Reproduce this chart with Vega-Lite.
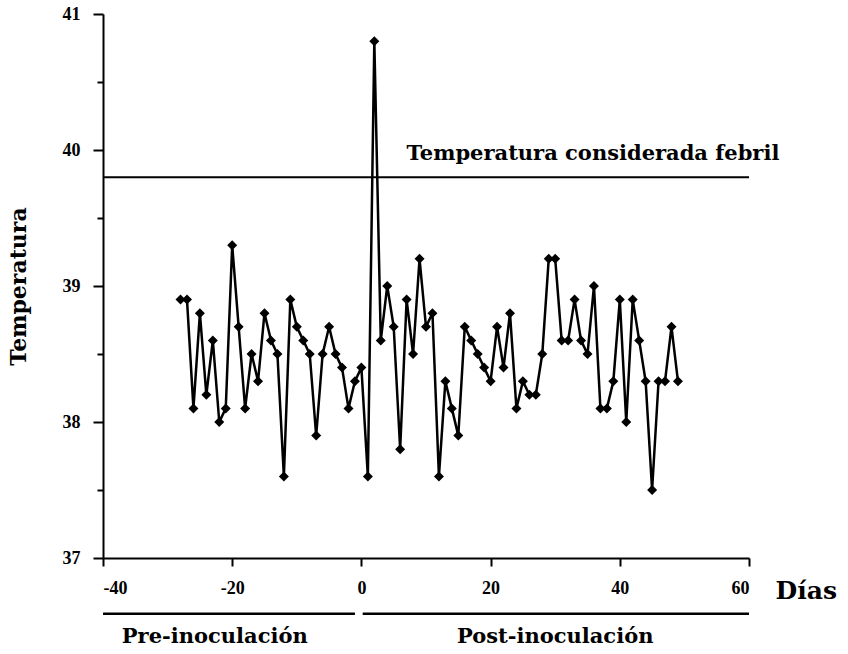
{
  "$schema": "https://vega.github.io/schema/vega-lite/v6.json",
  "width": 646,
  "height": 544,
  "autosize": "none",
  "padding": {"left": 103, "top": 14, "right": 99, "bottom": 96},
  "background": "white",
  "config": {
    "view": {"stroke": null},
    "font": "Liberation Serif"
  },
  "datasets": {
    "temp": [
      {"dia": -28, "temp": 38.9}, {"dia": -27, "temp": 38.9}, {"dia": -26, "temp": 38.1},
      {"dia": -25, "temp": 38.8}, {"dia": -24, "temp": 38.2}, {"dia": -23, "temp": 38.6},
      {"dia": -22, "temp": 38.0}, {"dia": -21, "temp": 38.1}, {"dia": -20, "temp": 39.3},
      {"dia": -19, "temp": 38.7}, {"dia": -18, "temp": 38.1}, {"dia": -17, "temp": 38.5},
      {"dia": -16, "temp": 38.3}, {"dia": -15, "temp": 38.8}, {"dia": -14, "temp": 38.6},
      {"dia": -13, "temp": 38.5}, {"dia": -12, "temp": 37.6}, {"dia": -11, "temp": 38.9},
      {"dia": -10, "temp": 38.7}, {"dia": -9, "temp": 38.6}, {"dia": -8, "temp": 38.5},
      {"dia": -7, "temp": 37.9}, {"dia": -6, "temp": 38.5}, {"dia": -5, "temp": 38.7},
      {"dia": -4, "temp": 38.5}, {"dia": -3, "temp": 38.4}, {"dia": -2, "temp": 38.1},
      {"dia": -1, "temp": 38.3}, {"dia": 0, "temp": 38.4}, {"dia": 1, "temp": 37.6},
      {"dia": 2, "temp": 40.8}, {"dia": 3, "temp": 38.6}, {"dia": 4, "temp": 39.0},
      {"dia": 5, "temp": 38.7}, {"dia": 6, "temp": 37.8}, {"dia": 7, "temp": 38.9},
      {"dia": 8, "temp": 38.5}, {"dia": 9, "temp": 39.2}, {"dia": 10, "temp": 38.7},
      {"dia": 11, "temp": 38.8}, {"dia": 12, "temp": 37.6}, {"dia": 13, "temp": 38.3},
      {"dia": 14, "temp": 38.1}, {"dia": 15, "temp": 37.9}, {"dia": 16, "temp": 38.7},
      {"dia": 17, "temp": 38.6}, {"dia": 18, "temp": 38.5}, {"dia": 19, "temp": 38.4},
      {"dia": 20, "temp": 38.3}, {"dia": 21, "temp": 38.7}, {"dia": 22, "temp": 38.4},
      {"dia": 23, "temp": 38.8}, {"dia": 24, "temp": 38.1}, {"dia": 25, "temp": 38.3},
      {"dia": 26, "temp": 38.2}, {"dia": 27, "temp": 38.2}, {"dia": 28, "temp": 38.5},
      {"dia": 29, "temp": 39.2}, {"dia": 30, "temp": 39.2}, {"dia": 31, "temp": 38.6},
      {"dia": 32, "temp": 38.6}, {"dia": 33, "temp": 38.9}, {"dia": 34, "temp": 38.6},
      {"dia": 35, "temp": 38.5}, {"dia": 36, "temp": 39.0}, {"dia": 37, "temp": 38.1},
      {"dia": 38, "temp": 38.1}, {"dia": 39, "temp": 38.3}, {"dia": 40, "temp": 38.9},
      {"dia": 41, "temp": 38.0}, {"dia": 42, "temp": 38.9}, {"dia": 43, "temp": 38.6},
      {"dia": 44, "temp": 38.3}, {"dia": 45, "temp": 37.5}, {"dia": 46, "temp": 38.3},
      {"dia": 47, "temp": 38.3}, {"dia": 48, "temp": 38.7}, {"dia": 49, "temp": 38.3}
    ],
    "umbral": [{"temp": 39.8, "dia": 7, "ty": 39.97, "label": "Temperatura considerada febril"}],
    "fases": [
      {"label": "Pre-inoculación", "x1": -40, "x2": -1, "xm": -22.7, "ly": 36.59, "ty": 36.42},
      {"label": "Post-inoculación", "x1": 0.2, "x2": 60, "xm": 30, "ly": 36.59, "ty": 36.42}
    ]
  },
  "layer": [
    {
      "data": {"name": "temp"},
      "mark": {"type": "line", "color": "black", "strokeWidth": 2.5},
      "encoding": {
        "x": {
          "field": "dia", "type": "quantitative",
          "scale": {"domain": [-40, 60], "nice": false, "zero": false},
          "axis": {
            "values": [-40, -20, 0, 20, 40, 60],
            "labelExpr": "datum.value + ''",
            "domainColor": "black", "domainWidth": 2,
            "tickColor": "black", "tickWidth": 2, "tickSize": 8,
            "labelFontSize": 18, "labelFontWeight": "bold", "labelColor": "black",
            "labelPadding": 13, "labelFont": "Liberation Serif",
            "grid": false,
            "title": "Días", "titleFontSize": 25, "titleFontWeight": "bold",
            "titleFont": "DejaVu Serif", "titleColor": "black",
            "titleX": 672, "titleY": 32, "titleAlign": "left", "titleBaseline": "middle", "titleAnchor": null
          }
        },
        "y": {
          "field": "temp", "type": "quantitative",
          "scale": {"domain": [37, 41], "nice": false, "zero": false},
          "axis": {
            "values": [37, 37.5, 38, 38.5, 39, 39.5, 40, 40.5, 41],
            "labelExpr": "datum.value % 1 === 0 ? datum.value + '' : ''",
            "domainColor": "black", "domainWidth": 2,
            "tickColor": "black", "tickWidth": 2,
            "tickSize": {"condition": {"test": "datum.value % 1 === 0", "value": 10}, "value": 6},
            "labelFontSize": 18, "labelFontWeight": "bold", "labelColor": "black",
            "labelPadding": 13, "labelFont": "Liberation Serif",
            "grid": false,
            "title": "Temperatura", "titleFontSize": 22, "titleFontWeight": "bold",
            "titleFont": "DejaVu Serif", "titleColor": "black", "titlePadding": 32
          }
        }
      }
    },
    {
      "data": {"name": "umbral"},
      "mark": {"type": "rule", "color": "black", "strokeWidth": 2},
      "encoding": {
        "y": {"field": "temp", "type": "quantitative"}
      }
    },
    {
      "data": {"name": "umbral"},
      "mark": {"type": "text", "align": "left", "baseline": "middle", "fontSize": 21, "fontWeight": "bold", "font": "DejaVu Serif", "color": "black"},
      "encoding": {
        "x": {"field": "dia", "type": "quantitative"},
        "y": {"field": "ty", "type": "quantitative"},
        "text": {"field": "label"}
      }
    },
    {
      "data": {"name": "temp"},
      "mark": {"type": "point", "shape": "diamond", "filled": true, "color": "black", "size": 100, "opacity": 1},
      "encoding": {
        "x": {"field": "dia", "type": "quantitative"},
        "y": {"field": "temp", "type": "quantitative"}
      }
    },
    {
      "data": {"name": "fases"},
      "mark": {"type": "rule", "color": "black", "strokeWidth": 2.5},
      "encoding": {
        "x": {"field": "x1", "type": "quantitative"},
        "x2": {"field": "x2"},
        "y": {"field": "ly", "type": "quantitative"}
      }
    },
    {
      "data": {"name": "fases"},
      "mark": {"type": "text", "align": "center", "baseline": "middle", "fontSize": 21, "fontWeight": "bold", "font": "DejaVu Serif", "color": "black"},
      "encoding": {
        "x": {"field": "xm", "type": "quantitative"},
        "y": {"field": "ty", "type": "quantitative"},
        "text": {"field": "label"}
      }
    }
  ]
}
